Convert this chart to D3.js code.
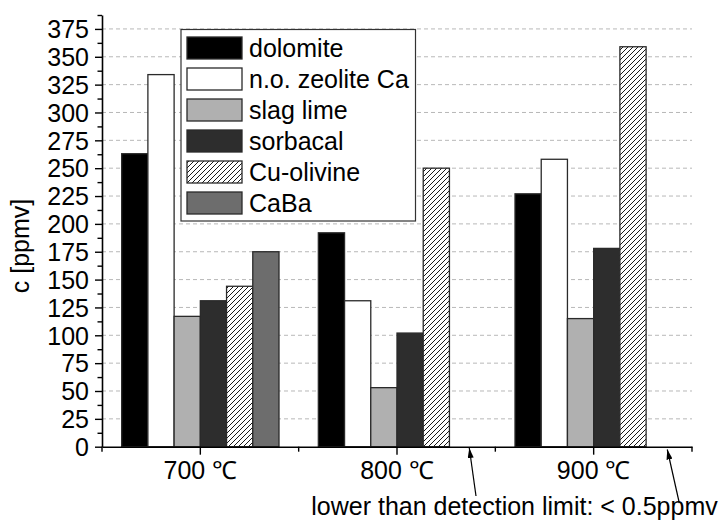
<!DOCTYPE html>
<html>
<head>
<meta charset="utf-8">
<script src="https://cdn.jsdelivr.net/npm/d3@7"></script>
<style>
  html, body { margin: 0; padding: 0; background: #fff; }
  svg { display: block; }
  text { font-family: "Liberation Sans", Arial, Helvetica, sans-serif; fill: #000; }
</style>
</head>
<body>
<svg id="chart" width="722" height="521"></svg>
<script>
// ---- data ----
const categories = ["700 ℃", "800 ℃", "900 ℃"];
const seriesNames = ["dolomite", "n.o. zeolite Ca", "slag lime", "sorbacal", "Cu-olivine", "CaBa"];
const dolomite   = [263, 192, 227];
const zeoliteCa  = [334, 131, 258];
const slagLime   = [117, 53, 115];
const sorbacal   = [131, 102, 178];
const cuOlivine  = [144, 250, 359];
const caBa       = [175, 0, 0];
const yTicks = [0, 25, 50, 75, 100, 125, 150, 175, 200, 225, 250, 275, 300, 325, 350, 375];
const yLabel = "c [ppmv]";
const noteText = "lower than detection limit: < 0.5ppmv";

const seriesValues = [dolomite, zeoliteCa, slagLime, sorbacal, cuOlivine, caBa];
const fills = ["#000000", "#ffffff", "#b0b0b0", "#2d2d2d", "url(#hatch)", "#6d6d6d"];
const FS = 25;

const svg = d3.select("#chart");
const mLeft = 102, mRight = 692, mTop = 15, mBottom = 446.7;

const defs = svg.append("defs");
const pat = defs.append("pattern").attr("id", "hatch").attr("patternUnits", "userSpaceOnUse")
  .attr("width", 5).attr("height", 5);
pat.append("rect").attr("width", 5).attr("height", 5).attr("fill", "#fff");
pat.append("path").attr("d", "M-1,1 L1,-1 M0,5 L5,0 M4,6 L6,4").attr("stroke", "#000").attr("stroke-width", 0.9);
defs.append("marker").attr("id", "arrow").attr("viewBox", "0 0 10 6").attr("refX", 10).attr("refY", 3)
  .attr("markerWidth", 10).attr("markerHeight", 6).attr("markerUnits", "userSpaceOnUse").attr("orient", "auto")
  .append("path").attr("d", "M0,0 L10,3 L0,6 Z").attr("fill", "#000");

const y = d3.scaleLinear().domain([0, 387.5]).range([mBottom, mTop]);
const x0 = d3.scaleBand().domain(categories).range([mLeft, mRight]).padding(0);
const bw = x0.bandwidth();
const x1 = d3.scaleBand().domain(seriesNames).range([bw * 0.1, bw * 0.9]).padding(0);

// grid
svg.append("g").selectAll("line").data(yTicks.filter(d => d > 0)).join("line")
  .attr("x1", mLeft).attr("x2", mRight)
  .attr("y1", d => y(d)).attr("y2", d => y(d))
  .attr("stroke", "#b8b8b8").attr("stroke-width", 1).attr("stroke-dasharray", "4,3");

// bars
const rows = [];
categories.forEach((c, ci) => {
  seriesNames.forEach((s, si) => {
    rows.push({ cat: c, s, v: seriesValues[si][ci], fill: fills[si] });
  });
});
svg.append("g").selectAll("rect").data(rows.filter(d => d.v > 0)).join("rect")
  .attr("x", d => x0(d.cat) + x1(d.s))
  .attr("y", d => y(d.v))
  .attr("width", x1.bandwidth())
  .attr("height", d => y(0) - y(d.v))
  .attr("fill", d => d.fill)
  .attr("stroke", "#2a2a2a").attr("stroke-width", 1.3);

// y axis
const minorY = d3.range(12.5, 388, 25);
svg.append("g").attr("transform", `translate(${mLeft},0)`)
  .call(d3.axisLeft(y).tickValues(minorY).tickSize(4.5).tickSizeOuter(0).tickFormat(""))
  .call(g => g.select(".domain").remove())
  .call(g => g.selectAll("line").attr("stroke", "#000").attr("stroke-width", 1.4));
const yAx = svg.append("g").attr("transform", `translate(${mLeft},0)`)
  .call(d3.axisLeft(y).tickValues(yTicks).tickSize(7).tickSizeOuter(0).tickPadding(6));
yAx.select(".domain").attr("stroke", "#000").attr("stroke-width", 1.6);
yAx.selectAll("line").attr("stroke", "#000").attr("stroke-width", 1.4);
yAx.selectAll("text").attr("font-size", FS).style("font-family", '"Liberation Sans", Arial, sans-serif')
  .attr("dy", "0.35em");

// x axis
const xAx = svg.append("g").attr("transform", `translate(0,${mBottom})`)
  .call(d3.axisBottom(x0).tickSize(8).tickSizeOuter(0).tickPadding(7));
xAx.select(".domain").attr("stroke", "#000").attr("stroke-width", 1.6);
xAx.selectAll("line").attr("stroke", "#000").attr("stroke-width", 1.4);
xAx.selectAll("text").attr("font-size", FS).style("font-family", '"Liberation Sans", Arial, sans-serif');
const bounds = categories.map(c => x0(c)).concat([x0(categories[categories.length - 1]) + bw]);
svg.append("g").selectAll("line").data(bounds).join("line")
  .attr("x1", d => d).attr("x2", d => d).attr("y1", mBottom).attr("y2", mBottom + 5)
  .attr("stroke", "#000").attr("stroke-width", 1.4);

// y label
svg.append("text").attr("transform", "translate(29,246) rotate(-90)")
  .attr("text-anchor", "middle").attr("font-size", FS).text(yLabel);

// legend
const lg = svg.append("g");
lg.append("rect").attr("x", 181).attr("y", 29.5).attr("width", 234.5).attr("height", 191.5)
  .attr("fill", "#fff").attr("stroke", "#333").attr("stroke-width", 1.2);
seriesNames.forEach((s, i) => {
  const ry = 37 + i * 31;
  lg.append("rect").attr("x", 187).attr("y", ry).attr("width", 55).attr("height", 22)
    .attr("fill", fills[i]).attr("stroke", "#2a2a2a").attr("stroke-width", 1.3);
  lg.append("text").attr("x", 249).attr("y", ry + 11).attr("dy", "0.35em")
    .attr("font-size", FS).text(s);
});

// note + arrows
svg.append("text").attr("x", 514.5).attr("y", 515).attr("text-anchor", "middle")
  .attr("font-size", FS).text(noteText);
const arrows = [[476, 496, 469.3, 448], [679.3, 503, 667.3, 449.5]];
svg.append("g").selectAll("line").data(arrows).join("line")
  .attr("x1", d => d[0]).attr("y1", d => d[1]).attr("x2", d => d[2]).attr("y2", d => d[3])
  .attr("stroke", "#000").attr("stroke-width", 1.2).attr("marker-end", "url(#arrow)");
</script>
</body>
</html>
